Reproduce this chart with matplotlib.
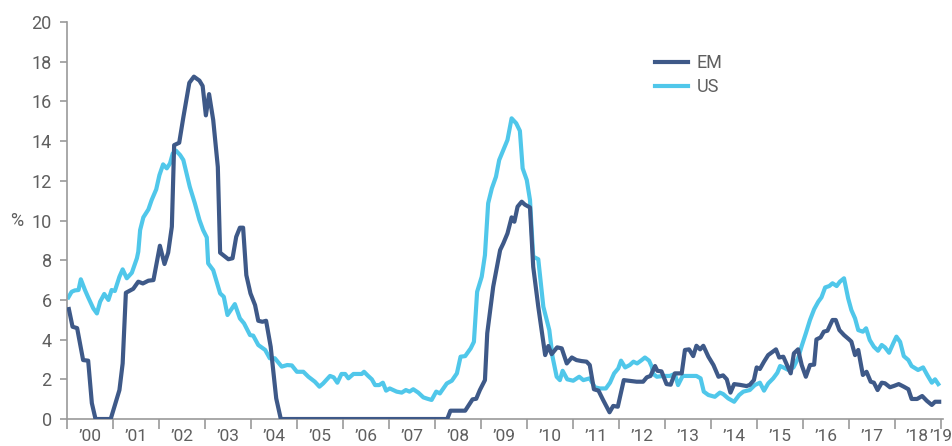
import matplotlib.pyplot as plt
from matplotlib.ticker import FixedLocator, NullFormatter

# decimal years and values
em_t = [2000.04, 2000.12, 2000.22, 2000.35, 2000.46, 2000.54, 2000.62, 2000.95, 2001.14, 2001.21,
        2001.28, 2001.44, 2001.55, 2001.65, 2001.77, 2001.88, 2002.02, 2002.12, 2002.20, 2002.28,
        2002.33, 2002.44, 2002.53, 2002.66, 2002.76, 2002.88, 2002.95, 2003.02, 2003.09, 2003.18,
        2003.28, 2003.33, 2003.51, 2003.60, 2003.68, 2003.76, 2003.83, 2003.90, 2003.99, 2004.09,
        2004.16, 2004.25, 2004.33, 2004.43, 2004.55, 2004.65, 2008.27, 2008.34, 2008.66, 2008.82,
        2008.90, 2008.98, 2009.09, 2009.14, 2009.27, 2009.42, 2009.49, 2009.58, 2009.67, 2009.73,
        2009.80, 2009.89, 2009.96, 2010.07, 2010.14, 2010.25, 2010.40, 2010.47, 2010.54, 2010.66,
        2010.76, 2010.87, 2010.98, 2011.08, 2011.19, 2011.30, 2011.37, 2011.46, 2011.56, 2011.66,
        2011.80, 2011.88, 2011.98, 2012.11, 2012.25, 2012.39, 2012.53, 2012.61, 2012.69, 2012.79,
        2012.84, 2012.93, 2013.04, 2013.13, 2013.22, 2013.37, 2013.44, 2013.53, 2013.62, 2013.69,
        2013.77, 2013.84, 2013.95, 2014.06, 2014.17, 2014.27, 2014.35, 2014.43, 2014.51, 2014.64,
        2014.78, 2014.85, 2014.94, 2015.00, 2015.07, 2015.16, 2015.25, 2015.35, 2015.42, 2015.49,
        2015.58, 2015.67, 2015.74, 2015.81, 2015.90, 2015.98, 2016.07, 2016.16, 2016.25, 2016.30,
        2016.39, 2016.46, 2016.54, 2016.65, 2016.72, 2016.80, 2016.90, 2017.01, 2017.06, 2017.14,
        2017.21, 2017.31, 2017.39, 2017.48, 2017.55, 2017.63, 2017.72, 2017.79, 2017.90, 2017.99,
        2018.09, 2018.20, 2018.30, 2018.37, 2018.49, 2018.60, 2018.70, 2018.81, 2018.88, 2018.97]
em_v = [5.54, 4.65, 4.58, 2.97, 2.94, 0.80, 0.00, 0.00, 1.46, 2.80,
        6.36, 6.56, 6.92, 6.83, 6.97, 7.00, 8.73, 7.81, 8.38, 9.69,
        13.80, 13.92, 15.20, 16.94, 17.25, 17.05, 16.78, 15.30, 16.37, 15.06,
        12.70, 8.38, 8.05, 8.10, 9.18, 9.64, 9.64, 7.25, 6.33, 5.74,
        4.95, 4.90, 4.95, 3.64, 1.04, 0.00, 0.00, 0.42, 0.42, 0.99,
        1.02, 1.46, 1.96, 4.32, 6.67, 8.51, 8.85, 9.35, 10.16, 9.94,
        10.70, 10.95, 10.80, 10.66, 7.67, 5.66, 3.22, 3.68, 3.27, 3.61,
        3.56, 2.80, 3.10, 2.97, 2.92, 2.89, 2.72, 1.50, 1.43, 0.96,
        0.34, 0.66, 0.62, 1.96, 1.92, 1.88, 1.88, 2.10, 2.17, 2.67,
        2.43, 2.40, 1.76, 1.73, 2.30, 2.30, 3.48, 3.51, 3.17, 3.69,
        3.51, 3.69, 3.14, 2.72, 2.13, 2.20, 2.00, 1.33, 1.76, 1.72,
        1.66, 1.72, 1.96, 2.60, 2.52, 2.89, 3.22, 3.39, 3.51, 3.10,
        3.14, 2.67, 2.30, 3.31, 3.51, 2.72, 2.13, 2.72, 2.74, 4.01,
        4.11, 4.40, 4.45, 4.99, 4.99, 4.48, 4.23, 4.01, 3.90, 3.22,
        3.48, 2.22, 2.38, 1.88, 1.83, 1.46, 1.83, 1.80, 1.60, 1.67,
        1.76, 1.63, 1.50, 1.01, 1.01, 1.16, 0.92, 0.71, 0.87, 0.87]

us_t = [2000.03, 2000.10, 2000.17, 2000.25, 2000.30, 2000.39, 2000.46, 2000.57, 2000.65, 2000.72,
        2000.81, 2000.90, 2000.97, 2001.04, 2001.14, 2001.21, 2001.30, 2001.41, 2001.52, 2001.55,
        2001.59, 2001.66, 2001.77, 2001.84, 2001.94, 2002.01, 2002.09, 2002.17, 2002.24, 2002.30,
        2002.37, 2002.46, 2002.53, 2002.67, 2002.78, 2002.88, 2002.96, 2003.04, 2003.07, 2003.18,
        2003.33, 2003.41, 2003.49, 2003.65, 2003.76, 2003.85, 2003.98, 2004.05, 2004.16, 2004.31,
        2004.41, 2004.52, 2004.67, 2004.79, 2004.89, 2005.00, 2005.14, 2005.25, 2005.39, 2005.49,
        2005.57, 2005.72, 2005.80, 2005.88, 2005.97, 2006.05, 2006.12, 2006.23, 2006.41, 2006.46,
        2006.55, 2006.63, 2006.70, 2006.79, 2006.87, 2006.94, 2007.02, 2007.17, 2007.28, 2007.37,
        2007.45, 2007.53, 2007.64, 2007.75, 2007.84, 2007.93, 2008.03, 2008.11, 2008.26, 2008.37,
        2008.48, 2008.56, 2008.66, 2008.78, 2008.85, 2008.92, 2009.02, 2009.09, 2009.16, 2009.24,
        2009.33, 2009.40, 2009.49, 2009.58, 2009.67, 2009.77, 2009.85, 2009.91, 2010.00, 2010.07,
        2010.14, 2010.25, 2010.36, 2010.49, 2010.56, 2010.65, 2010.72, 2010.78, 2010.88, 2011.01,
        2011.14, 2011.23, 2011.37, 2011.48, 2011.59, 2011.72, 2011.81, 2011.90, 2011.99, 2012.05,
        2012.14, 2012.24, 2012.32, 2012.40, 2012.50, 2012.57, 2012.66, 2012.72, 2012.75, 2012.83,
        2012.97, 2013.11, 2013.22, 2013.29, 2013.39, 2013.55, 2013.69, 2013.78, 2013.85, 2013.95,
        2014.09, 2014.20, 2014.27, 2014.38, 2014.51, 2014.62, 2014.71, 2014.85, 2014.96, 2015.07,
        2015.16, 2015.25, 2015.36, 2015.45, 2015.51, 2015.58, 2015.69, 2015.80, 2015.90, 2015.98,
        2016.07, 2016.16, 2016.25, 2016.34, 2016.41, 2016.49, 2016.58, 2016.65, 2016.74, 2016.81,
        2016.90, 2016.99, 2017.06, 2017.14, 2017.21, 2017.31, 2017.38, 2017.46, 2017.55, 2017.64,
        2017.72, 2017.79, 2017.88, 2017.97, 2018.04, 2018.12, 2018.20, 2018.30, 2018.37, 2018.51,
        2018.62, 2018.71, 2018.81, 2018.88, 2018.95]
us_v = [6.13, 6.41, 6.48, 6.50, 7.04, 6.50, 6.13, 5.58, 5.32, 5.91,
        6.30, 6.00, 6.50, 6.45, 7.17, 7.54, 7.09, 7.37, 8.10, 8.43,
        9.52, 10.16, 10.56, 11.03, 11.57, 12.29, 12.83, 12.63, 12.88, 13.38,
        13.52, 13.30, 13.05, 11.70, 10.87, 10.03, 9.52, 9.15, 7.84, 7.50,
        6.33, 6.16, 5.24, 5.79, 5.07, 4.82, 4.23, 4.20, 3.73, 3.48,
        3.06, 3.06, 2.64, 2.72, 2.70, 2.38, 2.38, 2.13, 1.88, 1.63,
        1.79, 2.17, 2.10, 1.83, 2.27, 2.27, 2.05, 2.27, 2.27, 2.38,
        2.17, 2.00, 1.71, 1.71, 1.83, 1.43, 1.54, 1.38, 1.33, 1.46,
        1.38, 1.50, 1.33, 1.09, 1.02, 0.96, 1.38, 1.29, 1.79, 1.93,
        2.30, 3.14, 3.17, 3.56, 3.89, 6.41, 7.17, 8.26, 10.87, 11.62,
        12.21, 13.05, 13.55, 14.06, 15.15, 14.90, 14.52, 12.63, 12.04, 11.03,
        8.18, 8.05, 5.66, 4.48, 3.14, 2.13, 1.96, 2.43, 2.00, 1.93,
        2.13, 1.96, 2.05, 1.60, 1.54, 1.54, 1.83, 2.30, 2.55, 2.94,
        2.60, 2.72, 2.89, 2.80, 2.97, 3.10, 2.94, 2.63, 2.27, 2.13,
        2.17, 2.17, 2.27, 1.71, 2.17, 2.17, 2.17, 2.05, 1.38, 1.21,
        1.12, 1.33, 1.26, 1.04, 0.87, 1.21, 1.38, 1.46, 1.71, 1.83,
        1.43, 1.79, 2.05, 2.33, 2.67, 2.60, 2.47, 2.60, 3.06, 3.68,
        4.32, 4.99, 5.53, 5.91, 6.13, 6.63, 6.70, 6.84, 6.70, 6.92,
        7.09, 6.08, 5.49, 5.07, 4.48, 4.40, 4.57, 3.98, 3.64, 3.44,
        3.73, 3.61, 3.34, 3.81, 4.15, 3.89, 3.17, 2.97, 2.67, 2.47,
        2.60, 2.22, 1.83, 2.00, 1.76]

years = list(range(2000, 2020))
year_labels = ['\u2019%02d' % (y % 100) for y in years]

em_color = '#3e5988'
us_color = '#50c7ea'
text_color = '#5f5f5f'
axis_color = '#9a9a9a'
font = ['Roboto', 'DejaVu Sans']

fig = plt.figure(figsize=(9.52, 4.46), dpi=100)
ax = fig.add_axes([0.0704, 0.0605, 0.92, 0.890])

ax.plot(us_t, us_v, color=us_color, lw=3, solid_joinstyle='round', label='US', zorder=2)
ax.plot(em_t, em_v, color=em_color, lw=3, solid_joinstyle='round', label='EM', zorder=3)

ax.set_xlim(2000, 2019.05)
ax.set_ylim(0, 20)

for s in ['top', 'right']:
    ax.spines[s].set_visible(False)
for s in ['left', 'bottom']:
    ax.spines[s].set_color(axis_color)
    ax.spines[s].set_linewidth(1.2)

ax.set_yticks(range(0, 21, 2))
ax.set_yticklabels([str(v) for v in range(0, 21, 2)], fontsize=13, color=text_color, family=font)
ax.tick_params(axis='y', direction='out', length=5, color=axis_color, width=1.2, pad=6)

# year ticks at year starts, labels mid-year ('19 sits next to its tick)
ax.xaxis.set_major_locator(FixedLocator(years))
ax.xaxis.set_major_formatter(NullFormatter())
ax.tick_params(axis='x', which='major', direction='out', length=7, color=axis_color, width=1.2)
label_pos = [y + 0.5 for y in years[:-1]] + [years[-1] + 0.01]
ax.set_xticks(label_pos, minor=True)
ax.set_xticklabels(year_labels, minor=True, fontsize=12.5, color=text_color, family=font)
ax.tick_params(axis='x', which='minor', length=0, pad=7)

fig.text(0.011, 0.505, '%', fontsize=13, color=text_color, family=font, va='center')

handles, labels = ax.get_legend_handles_labels()
ax.legend(handles[::-1], labels[::-1], loc='upper left', bbox_to_anchor=(0.671, 0.915),
          bbox_transform=fig.transFigure, frameon=False, handlelength=1.8,
          handletextpad=0.5, labelspacing=0.35, prop={'family': font, 'size': 13},
          labelcolor=text_color)

plt.savefig('out.png', dpi=100)
